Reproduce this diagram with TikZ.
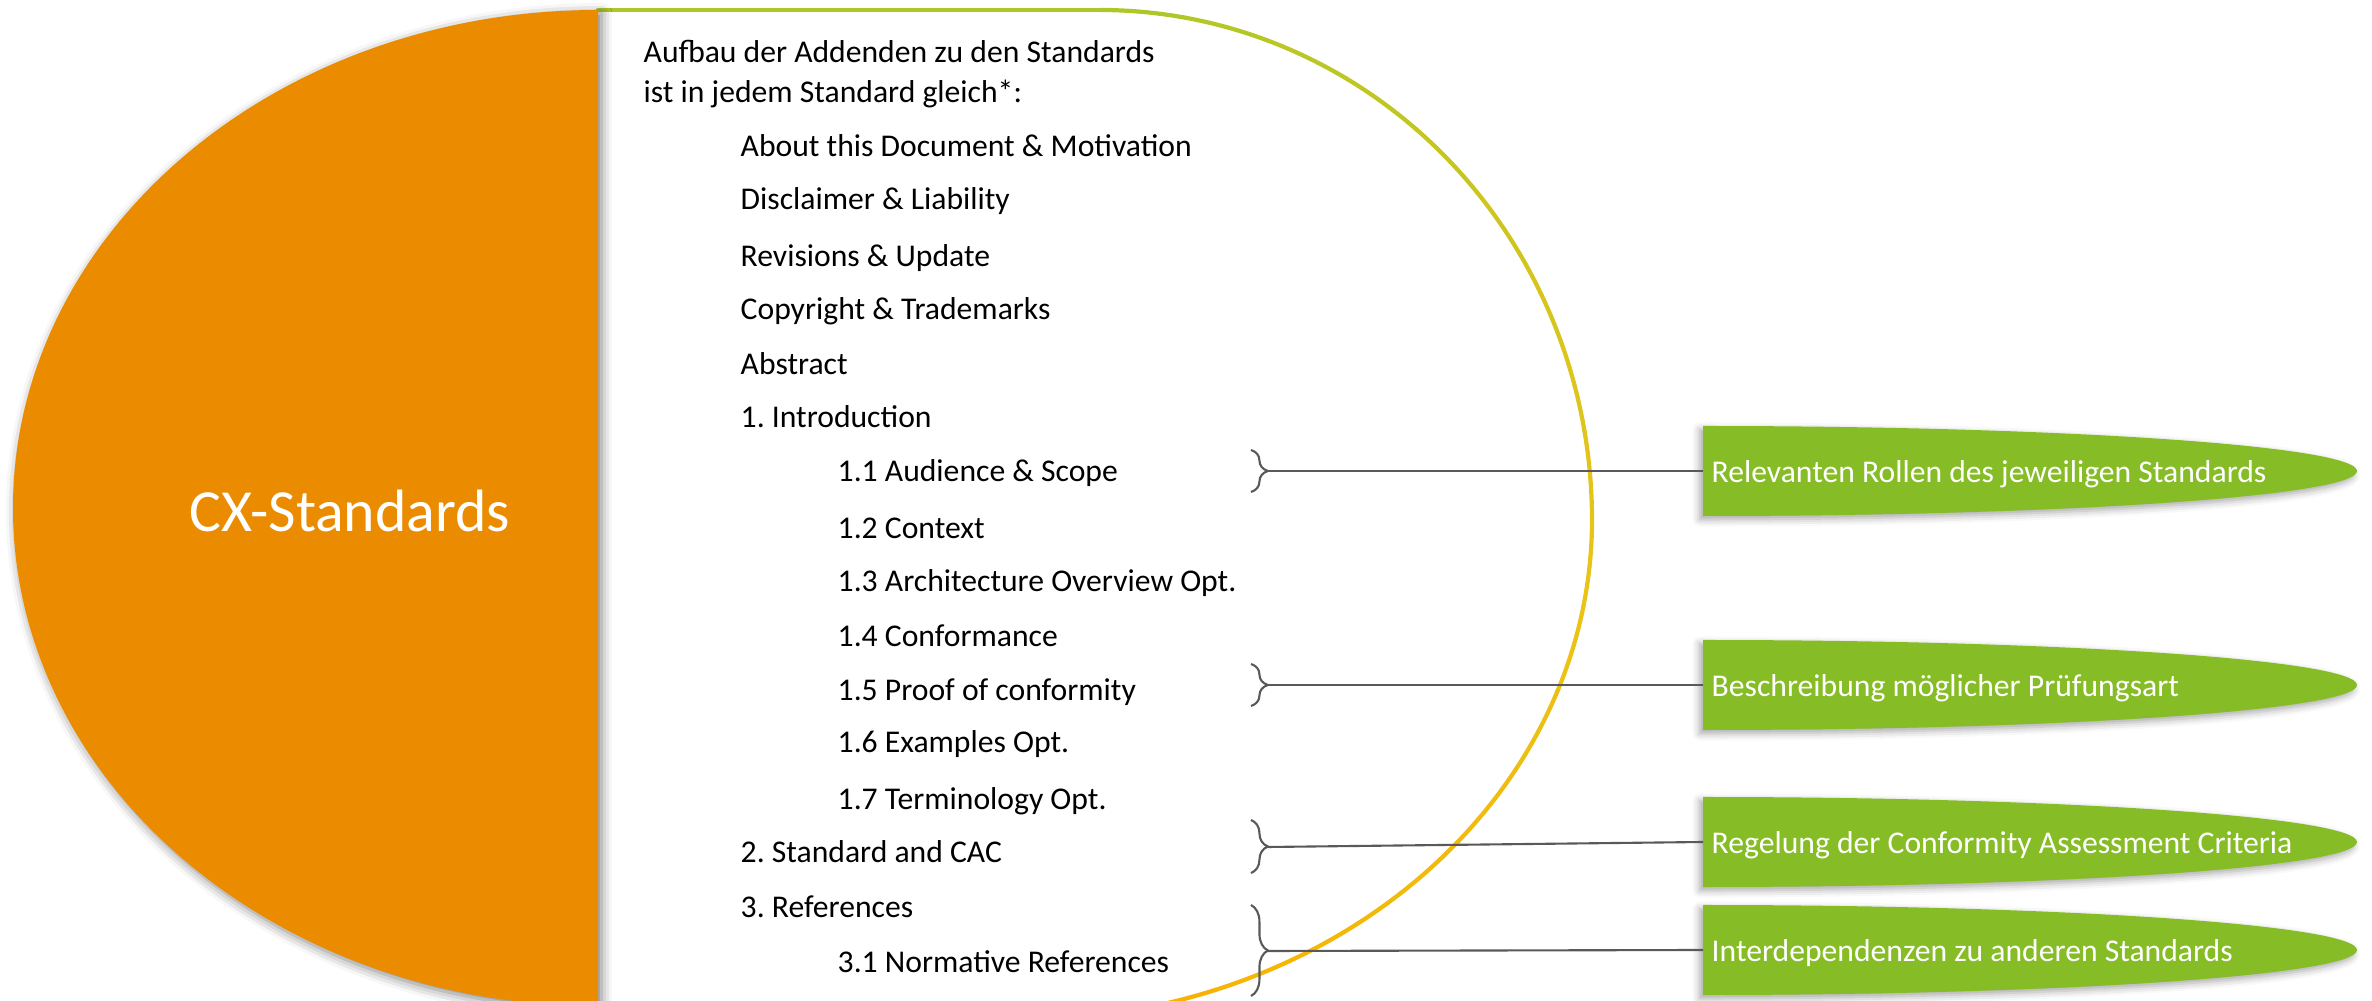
\documentclass[tikz,border=0pt]{standalone}
\usepackage{fontspec}
\setmainfont{Carlito}
\usetikzlibrary{calc,decorations.pathreplacing,shadows.blur}

\definecolor{cxorange}{RGB}{234,139,0}
\definecolor{cxgruen}{RGB}{134,188,37}
\definecolor{bogengruen}{RGB}{172,200,40}
\definecolor{bogengelb}{RGB}{233,196,24}
\definecolor{bogenorange}{RGB}{251,176,0}
\definecolor{linie}{RGB}{89,89,89}

\tikzset{
    eintrag/.style={anchor=base west, inner sep=0pt, font=\fontsize{9pt}{11pt}\selectfont},
    bogen/.style={line width=1.2pt, line cap=round},
    klammer/.style={linie, line width=0.6pt, decorate, decoration={brace, amplitude=4.8pt}},
    verbinder/.style={linie, line width=0.6pt},
    zunge/.style={fill=cxgruen, blur shadow={shadow xshift=-1pt, shadow yshift=-1pt, shadow blur radius=2pt, shadow opacity=35}},
    zungentext/.style={anchor=west, inner xsep=0.08cm, inner ysep=0pt, text=white, font=\fontsize{9pt}{11pt}\selectfont, text height=0.8em, text depth=0.17em}
}

\begin{document}
\frenchspacing
\begin{tikzpicture}[x=0.01cm, y=-0.01cm]
    \useasboundingbox (0,0) rectangle (2372,1001);
    \clip (0,0) rectangle (2372,1001);

    \draw [bogen, bogengruen] (598,10) -- (1100,10);
    \foreach \a in {270,280,...,350}
        {
        \pgfmathsetmacro{\p}{100-(\a-270)*100/90}
        \draw [bogen, bogengruen!\p!bogengelb] (1100,520) ++(\a:492 and 510) arc [start angle=\a, delta angle=10, x radius=492, y radius=510];
        }
    \foreach \a in {0,10,...,70}
        {
        \pgfmathsetmacro{\p}{100-\a*100/80}
        \draw [bogen, bogengelb!\p!bogenorange] (1020,520) ++(\a:572 and 500) arc [start angle=\a, delta angle=10, x radius=572, y radius=500];
        }

    \foreach \x/\y/\t [count=\i] in {643/63/Aufbau der Addenden zu den Standards,
        643/103/ist in jedem Standard gleich*:,
        740/157/About this Document \& Motivation,
        740/210/Disclaimer \& Liability,
        740/267/Revisions \& Update,
        740/320/Copyright \& Trademarks,
        740/375/Abstract,
        740/428/1. Introduction,
        837/482/1.1 Audience \& Scope,
        837/539/1.2 Context,
        837/592/1.3 Architecture Overview Opt.,
        837/647/1.4 Conformance,
        837/701/1.5 Proof of conformity,
        837/753/1.6 Examples Opt.,
        837/810/1.7 Terminology Opt.,
        740/863/2. Standard and CAC,
        740/918/3. References,
        837/973/3.1 Normative References}
        \node [eintrag] (z\i) at (\x,\y) {\t};

    \foreach \y/\n/\t in {471/rolle/Relevanten Rollen des jeweiligen Standards,
        685/pruefung/Beschreibung möglicher Prüfungsart,
        842/cac/Regelung der Conformity Assessment Criteria,
        950/abh/Interdependenzen zu anderen Standards}
        {
        \fill [zunge] (1703,\y-45) arc [start angle=270, end angle=450, x radius=654, y radius=45] -- cycle;
        \node [zungentext] (\n) at (1703,\y) {\t};
        }

    \draw [klammer] (1251,450) -- (1251,492);
    \draw [klammer] (1251,664) -- (1251,706);
    \draw [klammer] (1251,820) -- (1251,873);
    \draw [klammer] (1251,905) -- (1251,996);

    \coordinate (k1) at (1268,471);
    \coordinate (k2) at (1268,685);
    \coordinate (k3) at (1268,847);
    \coordinate (k4) at (1268,951);

    \draw [verbinder] (k1) -- (rolle.west);
    \draw [verbinder] (k2) -- (pruefung.west);
    \draw [verbinder] (k3) -- (cac.west);
    \draw [verbinder] (k4) -- (abh.west);

    \fill [cxorange, blur shadow={shadow xshift=1pt, shadow yshift=-1pt, shadow blur radius=3pt, shadow opacity=50}] (598,10) arc [start angle=270, end angle=90, x radius=585, y radius=498] -- cycle;
    \node [text=white, font=\fontsize{17pt}{20pt}\selectfont] (cx) at (350,511) {CX-Standards};
\end{tikzpicture}
\end{document}
